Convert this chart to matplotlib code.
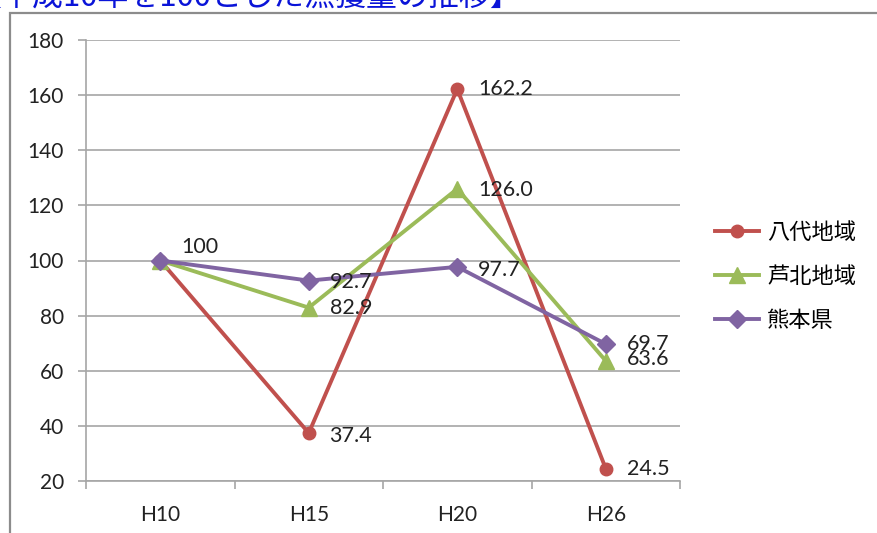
import matplotlib.pyplot as plt
from matplotlib.patches import Rectangle

# 平成10年を100とした漁獲量の指数
years = ['H10', 'H15', 'H20', 'H26']
yatsushiro = [100, 37.4, 162.2, 24.5]
ashikita = [100, 82.9, 126.0, 63.6]
kumamoto = [100, 92.7, 97.7, 69.7]
series_names = ['八代地域', '芦北地域', '熊本県']

plt.rcParams['font.family'] = ['Lato', 'Noto Sans CJK JP', 'DejaVu Sans']

W, H = 877, 533
fig = plt.figure(figsize=(W / 100, H / 100), dpi=100)

# 外枠と見出し
fig.patches.append(Rectangle((10 / W, -0.1), 1.0, (H - 13) / H + 0.1, transform=fig.transFigure,
                             fill=False, edgecolor='#8c8c8c', linewidth=1.6, zorder=0))
fig.text(-30 / W, (H - 14) / H, '【平成10年を100とした漁獲量の推移】', color='#0a14d8',
         fontsize=22.3, ha='left', va='bottom', family=['Noto Sans CJK JP'])

ax = fig.add_axes([86 / W, (H - 481) / H, 594 / W, 441 / H])
x = list(range(len(years)))

ax.plot(x, yatsushiro, color='#C0504D', lw=2.8, marker='o', ms=9, label=series_names[0], zorder=3)
ax.plot(x, ashikita, color='#9BBB59', lw=2.8, marker='^', ms=11.5, label=series_names[1], zorder=4)
ax.plot(x, kumamoto, color='#8064A2', lw=2.8, marker='D', ms=9.5, label=series_names[2], zorder=5)

ax.set_xlim(-0.5, 3.5)
ax.set_ylim(20, 180)
ax.set_yticks(range(20, 181, 20))
ax.yaxis.grid(True, color='#a6a6a6', lw=1.2)
ax.set_axisbelow(True)

ax.set_xticks(x)
ax.set_xticklabels(years)
ax.set_xticks([-0.5, 0.5, 1.5, 2.5, 3.5], minor=True)
ax.tick_params(axis='x', which='major', length=0, pad=17, labelsize=15, labelcolor='#222222')
ax.tick_params(axis='x', which='minor', length=6, width=1.2, color='#a6a6a6')
ax.tick_params(axis='y', length=6, width=1.2, color='#a6a6a6', pad=10, labelsize=15,
               labelcolor='#222222')

for side in ['top', 'right']:
    ax.spines[side].set_visible(False)
for side in ['left', 'bottom']:
    ax.spines[side].set_color('#a6a6a6')
    ax.spines[side].set_linewidth(1.2)

# データラベル
def label(xi, val, text, dy=0):
    ax.annotate(text, (xi, val), xytext=(15, dy), textcoords='offset points',
                ha='left', va='center', fontsize=15.5, color='#222222', zorder=6)

label(0, 100, '100', dy=10)
label(1, yatsushiro[1], f'{yatsushiro[1]:.1f}', dy=-2)
label(2, yatsushiro[2], f'{yatsushiro[2]:.1f}')
label(3, yatsushiro[3], f'{yatsushiro[3]:.1f}', dy=0)
label(1, ashikita[1], f'{ashikita[1]:.1f}')
label(2, ashikita[2], f'{ashikita[2]:.1f}', dy=-1)
label(3, ashikita[3], f'{ashikita[3]:.1f}', dy=1)
label(1, kumamoto[1], f'{kumamoto[1]:.1f}', dy=-1)
label(2, kumamoto[2], f'{kumamoto[2]:.1f}', dy=-2)
label(3, kumamoto[3], f'{kumamoto[3]:.1f}')

leg = ax.legend(loc='center left', bbox_to_anchor=(1.025, 0.464), frameon=False,
                handlelength=2.0, labelspacing=0.95, handletextpad=0.35,
                prop={'family': ['Noto Sans CJK JP'], 'size': 16})

fig.savefig('out.png', dpi=100)
